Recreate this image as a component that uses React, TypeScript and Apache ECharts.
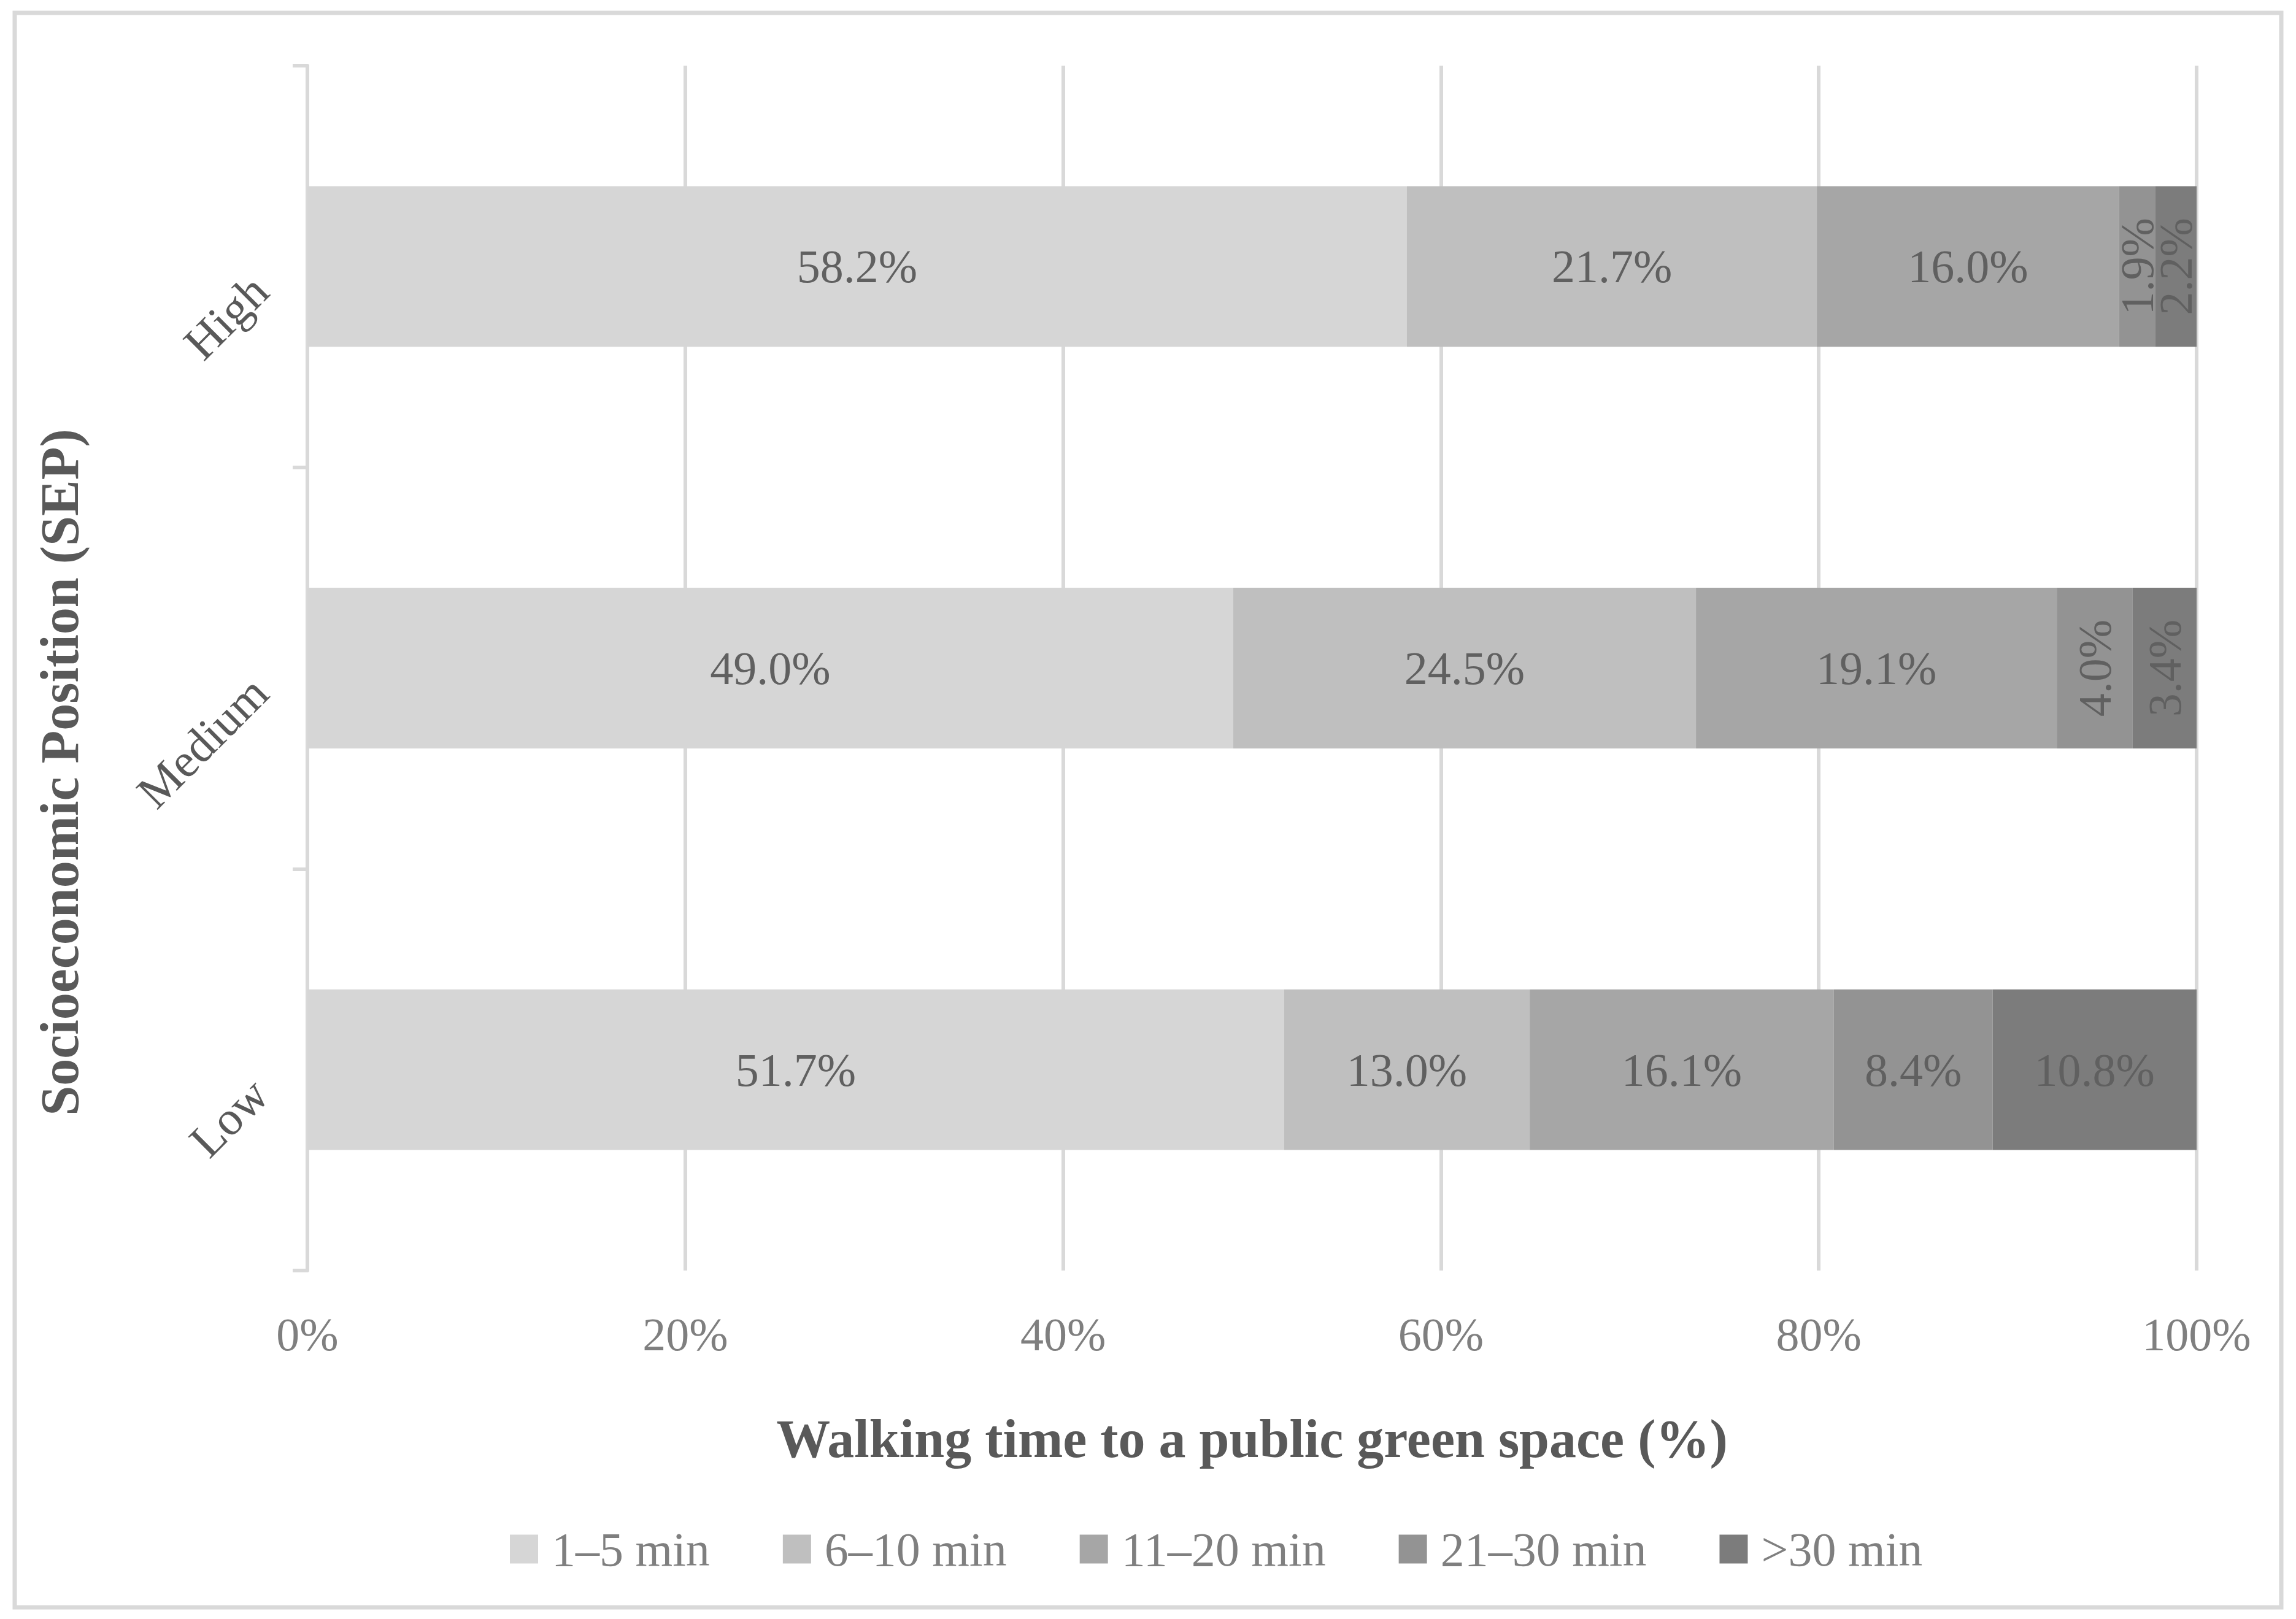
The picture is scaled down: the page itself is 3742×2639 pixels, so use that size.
import React, { useEffect, useRef } from "react";
import * as echarts from "echarts";

const categories = ["Low", "Medium", "High"];
const seriesNames = ["1–5 min", "6–10 min", "11–20 min", "21–30 min", ">30 min"];
const min1to5 = [51.7, 49.0, 58.2];
const min6to10 = [13.0, 24.5, 21.7];
const min11to20 = [16.1, 19.1, 16.0];
const min21to30 = [8.4, 4.0, 1.9];
const minOver30 = [10.8, 3.4, 2.2];
const xTicks = [0, 20, 40, 60, 80, 100];
const xTitle = "Walking time to a public green space (%)";
const yTitle = "Socioeconomic Position (SEP)";

const seriesValues = [min1to5, min6to10, min11to20, min21to30, minOver30];
const colors = ["#d6d6d6", "#bfbfbf", "#a6a6a6", "#939393", "#7c7c7c"];
const FONT = "'Liberation Serif', 'Times New Roman', serif";

export default function App() {
  const ref = useRef<HTMLDivElement>(null);
  useEffect(() => {
    if (!ref.current) return;
    const chart = echarts.init(ref.current, undefined, { renderer: "svg" });
    chart.setOption({
      animation: false,
      backgroundColor: "#ffffff",
      textStyle: { fontFamily: FONT },
      graphic: [
        {
          type: "rect",
          shape: { x: 24, y: 21, width: 3694, height: 2599 },
          style: { fill: "none", stroke: "#d9d9d9", lineWidth: 7 },
          silent: true,
        },
        {
          type: "text",
          x: 97,
          y: 1259,
          rotation: Math.PI / 2,
          silent: true,
          style: {
            text: yTitle,
            fontFamily: FONT,
            fontSize: 88,
            fontWeight: "bold",
            fill: "#595959",
            align: "center",
            verticalAlign: "middle",
          },
        },
      ],
      grid: { left: 501, right: 162, top: 107, bottom: 568, containLabel: false },
      legend: {
        data: seriesNames,
        left: 826,
        top: 2481,
        itemWidth: 46,
        itemHeight: 47,
        itemGap: 119,
        icon: "rect",
        textStyle: {
          fontFamily: FONT,
          fontSize: 78,
          color: "#7f7f7f",
          padding: [0, 0, 0, 17],
        },
      },
      xAxis: {
        type: "value",
        min: xTicks[0],
        max: xTicks[xTicks.length - 1],
        interval: 20,
        axisLine: { show: false },
        axisTick: { show: false },
        splitLine: { show: true, lineStyle: { color: "#d9d9d9", width: 6 } },
        axisLabel: {
          formatter: "{value}%",
          fontFamily: FONT,
          fontSize: 76,
          color: "#7f7f7f",
          margin: 66,
        },
        name: xTitle,
        nameLocation: "middle",
        nameGap: 230,
        nameTextStyle: {
          fontFamily: FONT,
          fontSize: 88,
          fontWeight: "bold",
          color: "#595959",
        },
      },
      yAxis: {
        type: "category",
        data: categories,
        axisLine: { show: true, lineStyle: { color: "#d9d9d9", width: 6 } },
        axisTick: { show: true, length: 24, lineStyle: { color: "#d9d9d9", width: 6 } },
        splitLine: { show: false },
        axisLabel: {
          rotate: 45,
          fontFamily: FONT,
          fontSize: 78,
          color: "#595959",
          margin: 105,
          verticalAlign: "top",
        },
      },
      series: seriesNames.map((name, i) => ({
        name,
        type: "bar",
        stack: "total",
        barCategoryGap: "60%",
        itemStyle: { color: colors[i] },
        label: {
          show: true,
          position: "inside",
          fontFamily: FONT,
          fontSize: 76,
          color: "#606060",
          formatter: (p: any) => Number(p.value).toFixed(1) + "%",
        },
        data: seriesValues[i].map((v) =>
          v < 5 ? { value: v, label: { rotate: 90 } } : { value: v }
        ),
      })),
    });
    return () => chart.dispose();
  }, []);
  return (
    <div
      ref={ref}
      style={{ position: "fixed", left: 0, top: 0, width: 3742, height: 2639 }}
    />
  );
}
